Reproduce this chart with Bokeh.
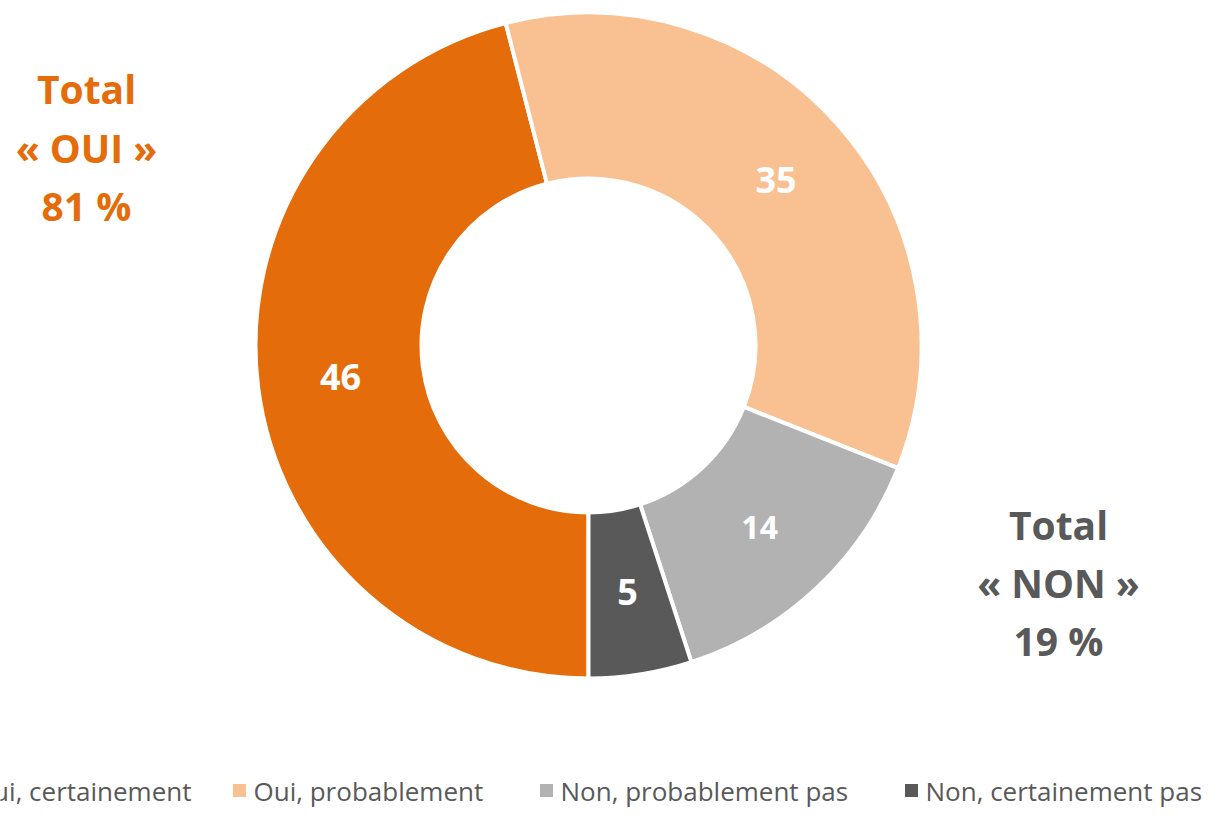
import math
from bokeh.plotting import figure
from bokeh.models import Range1d, ColumnDataSource
from bokeh.core.properties import value
from bokeh.embed import file_html
from bokeh.resources import INLINE

# ---- data ----
categories = ["Oui, certainement", "Oui, probablement", "Non, probablement pas", "Non, certainement pas"]
values = [46, 35, 14, 5]
colors = ["#E46C0A", "#F9C191", "#B2B2B2", "#595959"]
label_sizes = ["36px", "36px", "32px", "36px"]
total_oui = ["Total", "« OUI »", "81 %"]
total_non = ["Total", "« NON »", "19 %"]

# ---- layout (image pixel coordinates; y data = H - image y) ----
W, H = 1209, 807
def Y(img_y):
    return H - img_y

cx, cy = 588, Y(345)
r_out, r_in, r_lab = 331, 167, 250
first_angle = 180.0  # first slice starts at 6 o'clock, clockwise

p = figure(width=W, height=H, x_range=Range1d(0, W), y_range=Range1d(0, H),
           output_backend="svg", toolbar_location=None, x_axis_type=None, y_axis_type=None,
           min_border=0, min_border_left=0, min_border_right=0, min_border_top=0, min_border_bottom=0)
p.grid.visible = False
p.outline_line_color = None
p.background_fill_color = "white"

total = sum(values)
starts, ends, lx, ly = [], [], [], []
cum = 0.0
for v in values:
    a = first_angle + cum / total * 360.0
    b = a + v / total * 360.0
    cum += v
    starts.append(math.radians(90.0 - b))
    ends.append(math.radians(90.0 - a))
    m = math.radians((a + b) / 2)
    lx.append(cx + r_lab * math.sin(m))
    ly.append(cy + r_lab * math.cos(m))

src = ColumnDataSource(dict(start=starts, end=ends, color=colors, cat=categories,
                            lx=lx, ly=ly, lab=[str(v) for v in values], size=label_sizes))
p.annular_wedge(x=cx, y=cy, inner_radius=r_in, outer_radius=r_out + 2,
                start_angle="start", end_angle="end",
                fill_color="color", line_color="white", line_width=4, source=src)
p.text(x="lx", y="ly", text="lab", text_font_size="size", text_color="white",
       text_font=value("Open Sans"), text_font_style="bold",
       text_align="center", text_baseline="middle", source=src)

# totals
p.text(x=[86] * 3, y=[Y(88), Y(147), Y(205)], text=total_oui, text_color="#E46C0A",
       text_font=value("Open Sans"), text_font_style="bold", text_font_size="39px",
       text_align="center", text_baseline="middle")
p.text(x=[1058] * 3, y=[Y(524), Y(582), Y(640)], text=total_non, text_color="#595959",
       text_font=value("Open Sans"), text_font_style="bold", text_font_size="39px",
       text_align="center", text_baseline="middle")

# legend (bottom, first item clipped at left edge like the reference)
leg_y = Y(790)
sq_x = [-60, 239, 546, 911]
txt_x = [191, 253, 560, 925]
aligns = ["right", "left", "left", "left"]
p.rect(x=sq_x, y=[leg_y] * 4, width=13, height=13, fill_color=colors, line_color=None)
p.text(x=txt_x, y=[leg_y] * 4, text=categories, text_align=aligns, text_color="#595959",
       text_font=value("Open Sans"), text_font_size="26px", text_baseline="middle")

open("out.html", "w").write(file_html(p, INLINE))
